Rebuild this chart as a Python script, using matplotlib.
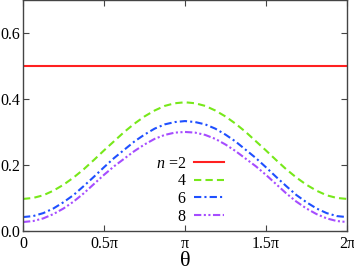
import numpy as np
import matplotlib
matplotlib.use("Agg")
import matplotlib.pyplot as plt

plt.rcParams["font.family"] = ["Liberation Serif", "DejaVu Serif"]
plt.rcParams["mathtext.fontset"] = "custom"
plt.rcParams["mathtext.it"] = "Liberation Serif:italic"
plt.rcParams["mathtext.rm"] = "Liberation Serif"

# theta in units of pi, step pi/16
theta_pi = [i / 16 for i in range(33)]

n2 = [0.5] * 33
n4 = [0.097, 0.100, 0.108, 0.122, 0.140, 0.162, 0.187, 0.215, 0.244,
      0.272, 0.300, 0.325, 0.347, 0.365, 0.379, 0.387, 0.390,
      0.387, 0.379, 0.365, 0.347, 0.325, 0.300, 0.272, 0.244,
      0.215, 0.187, 0.162, 0.140, 0.122, 0.108, 0.100, 0.097]
n6 = [0.042, 0.045, 0.054, 0.068, 0.087, 0.109, 0.136, 0.164, 0.193,
      0.221, 0.246, 0.271, 0.292, 0.310, 0.323, 0.330, 0.333,
      0.330, 0.323, 0.310, 0.292, 0.271, 0.246, 0.221, 0.193,
      0.164, 0.136, 0.109, 0.087, 0.068, 0.054, 0.045, 0.042]
n8 = [0.027, 0.030, 0.038, 0.051, 0.068, 0.089, 0.114, 0.142, 0.170,
      0.196, 0.219, 0.242, 0.262, 0.279, 0.291, 0.298, 0.300,
      0.298, 0.291, 0.279, 0.262, 0.242, 0.219, 0.196, 0.170,
      0.142, 0.114, 0.089, 0.068, 0.051, 0.038, 0.030, 0.027]

labels = ["$n$ =2", "4", "6", "8"]
xtick_pos = [0, 0.5, 1.0, 1.5, 2.0]
xtick_labels = ["0", "0.5\u03c0", "\u03c0", "1.5\u03c0", "2\u03c0"]
yticks = [0.0, 0.2, 0.4, 0.6]

x = np.array(theta_pi) * np.pi

fig = plt.figure(figsize=(3.54, 2.72), dpi=100)
ax = fig.add_axes([0.065, 0.151, 0.915, 0.849])

ax.plot(x, n2, color="#ff2020", lw=1.5, ls="-", label=labels[0])
ax.plot(x, n4, color="#77e81a", lw=1.5, ls=(0, (3.5, 2)), label=labels[1])
ax.plot(x, n6, color="#1f50ff", lw=1.5, ls=(0, (3.5, 1.5, 1, 1.5)), label=labels[2])
ax.plot(x, n8, color="#a64dff", lw=1.5, ls=(0, (3.5, 1.2, 1, 1.2, 1, 1.2)), label=labels[3])

ax.set_xlim(0, 2 * np.pi)
ax.set_ylim(0, 0.7)
ax.set_xticks(np.array(xtick_pos) * np.pi)
ax.set_xticklabels(xtick_labels)
ax.set_yticks(yticks)
ax.set_yticklabels(["%.1f" % v for v in yticks])
ax.tick_params(direction="in", top=True, right=True, length=4, width=0.8,
               labelsize=11.5, colors="#444444", labelcolor="black")
ax.tick_params(axis="y", pad=2)
ax.tick_params(axis="x", pad=4)
for s in ax.spines.values():
    s.set_color("#444444")
    s.set_linewidth(1.0)

ax.set_xlabel("\u03b8", fontsize=16, labelpad=0)

ax.legend(loc="center", bbox_to_anchor=(0.515, 0.176), frameon=False,
          markerfirst=False, fontsize=11.5, handlelength=1.9, handletextpad=0.5,
          labelspacing=0.1, borderpad=0)
leg = ax.get_legend()
for t in leg.get_texts():
    t.set_ha("right")

fig.savefig("out.png", dpi=100)
